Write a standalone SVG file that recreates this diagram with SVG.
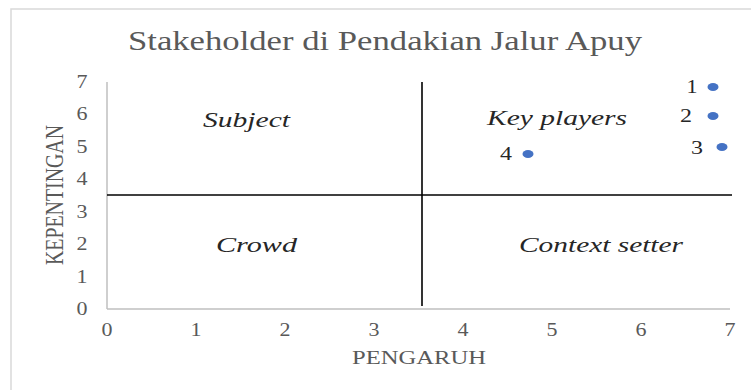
<svg xmlns="http://www.w3.org/2000/svg" width="751" height="390" viewBox="0 0 751 390">
  <style>
    .serif { font-family: "Liberation Serif", "Times New Roman", serif; }
    .title { font-size: 27px; fill: #595959; }
    .tick { font-size: 18px; fill: #595959; text-anchor: middle; }
    .axt { font-size: 19px; fill: #595959; }
    .quad { font-size: 22px; font-style: italic; fill: #262626; }
    .plab { font-size: 19px; fill: #262626; text-anchor: middle; }
    .axis { stroke: #bfbfbf; stroke-width: 1.5; fill: none; }
    .divider { stroke: #000000; stroke-width: 1.6; fill: none; }
    .pt { fill: #4472c4; }
  </style>
  <rect x="0" y="0" width="751" height="390" fill="#ffffff"/>
  <rect id="frame" x="11" y="9" width="760" height="400" fill="#ffffff" stroke="#d9d9d9" stroke-width="1.5"/>

  <g id="title" class="serif">
    <text class="title" x="128" y="50" textLength="514" lengthAdjust="spacingAndGlyphs">Stakeholder di Pendakian Jalur Apuy</text>
  </g>

  <g id="axes">
    <line class="axis" x1="107" y1="82" x2="107" y2="309"/>
    <line class="axis" x1="107" y1="309" x2="730" y2="309"/>
    <g id="y-ticks" class="serif">
      <text class="tick" x="82" y="315" textLength="11" lengthAdjust="spacingAndGlyphs">0</text>
      <text class="tick" x="82" y="283" textLength="11" lengthAdjust="spacingAndGlyphs">1</text>
      <text class="tick" x="82" y="250" textLength="11" lengthAdjust="spacingAndGlyphs">2</text>
      <text class="tick" x="82" y="218" textLength="11" lengthAdjust="spacingAndGlyphs">3</text>
      <text class="tick" x="82" y="185" textLength="11" lengthAdjust="spacingAndGlyphs">4</text>
      <text class="tick" x="82" y="153" textLength="11" lengthAdjust="spacingAndGlyphs">5</text>
      <text class="tick" x="82" y="120" textLength="11" lengthAdjust="spacingAndGlyphs">6</text>
      <text class="tick" x="82" y="88" textLength="11" lengthAdjust="spacingAndGlyphs">7</text>
    </g>
    <g id="x-ticks" class="serif">
      <text class="tick" x="107" y="336" textLength="11" lengthAdjust="spacingAndGlyphs">0</text>
      <text class="tick" x="196" y="336" textLength="11" lengthAdjust="spacingAndGlyphs">1</text>
      <text class="tick" x="285" y="336" textLength="11" lengthAdjust="spacingAndGlyphs">2</text>
      <text class="tick" x="374" y="336" textLength="11" lengthAdjust="spacingAndGlyphs">3</text>
      <text class="tick" x="463" y="336" textLength="11" lengthAdjust="spacingAndGlyphs">4</text>
      <text class="tick" x="552" y="336" textLength="11" lengthAdjust="spacingAndGlyphs">5</text>
      <text class="tick" x="641" y="336" textLength="11" lengthAdjust="spacingAndGlyphs">6</text>
      <text class="tick" x="730" y="336" textLength="11" lengthAdjust="spacingAndGlyphs">7</text>
    </g>
    <g id="x-title" class="serif">
      <text class="axt" x="352" y="364" textLength="134" lengthAdjust="spacingAndGlyphs">PENGARUH</text>
    </g>
    <g id="y-title" class="serif">
      <text class="axt" transform="translate(63 265) rotate(-90) scale(1 1.35)" x="0" y="0" textLength="140" lengthAdjust="spacingAndGlyphs">KEPENTINGAN</text>
    </g>
  </g>

  <g id="connectors">
    <line class="divider" x1="107" y1="195" x2="732" y2="195"/>
    <line class="divider" x1="422" y1="82" x2="422" y2="306"/>
  </g>

  <g id="quadrant-subject" class="serif">
    <text class="quad" x="203" y="127" textLength="87" lengthAdjust="spacingAndGlyphs">Subject</text>
  </g>
  <g id="quadrant-key-players" class="serif">
    <text class="quad" x="487" y="125" textLength="140" lengthAdjust="spacingAndGlyphs">Key players</text>
  </g>
  <g id="quadrant-crowd" class="serif">
    <text class="quad" x="216" y="252" textLength="81" lengthAdjust="spacingAndGlyphs">Crowd</text>
  </g>
  <g id="quadrant-context-setter" class="serif">
    <text class="quad" x="519" y="252" textLength="164" lengthAdjust="spacingAndGlyphs">Context setter</text>
  </g>

  <g id="point-1" class="serif">
    <ellipse class="pt" cx="713" cy="87" rx="5.5" ry="4"/>
    <text class="plab" x="692" y="93" textLength="11" lengthAdjust="spacingAndGlyphs">1</text>
  </g>
  <g id="point-2" class="serif">
    <ellipse class="pt" cx="713" cy="116" rx="5.5" ry="4"/>
    <text class="plab" x="686" y="122" textLength="12" lengthAdjust="spacingAndGlyphs">2</text>
  </g>
  <g id="point-3" class="serif">
    <ellipse class="pt" cx="722" cy="147" rx="5.5" ry="4"/>
    <text class="plab" x="697" y="154" textLength="12" lengthAdjust="spacingAndGlyphs">3</text>
  </g>
  <g id="point-4" class="serif">
    <ellipse class="pt" cx="528" cy="154" rx="5.5" ry="4"/>
    <text class="plab" x="506" y="160" textLength="12" lengthAdjust="spacingAndGlyphs">4</text>
  </g>
</svg>
